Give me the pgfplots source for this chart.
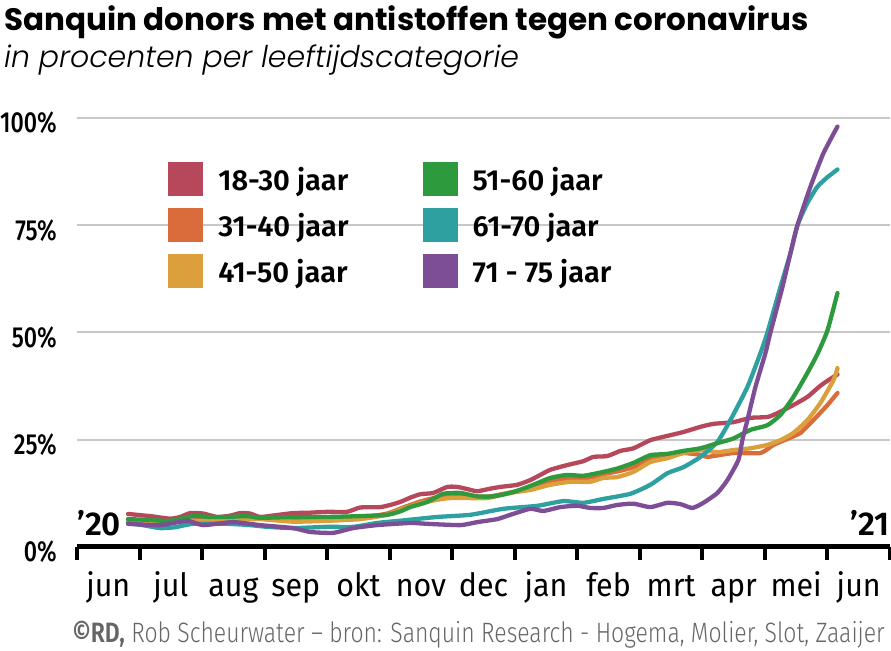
\documentclass[border=0pt]{standalone}
\usepackage{fontspec}
\usepackage{pgfplots}
\pgfplotsset{compat=1.18}
\setmainfont{Fira Sans}
\newfontfamily\titlefont{Poppins Bold}
\newfontfamily\subfont{Poppins Light Italic}
\newfontfamily\cond{Fira Sans Medium}[FakeStretch=0.8]
\newfontfamily\monthfont{Fira Sans}[FakeStretch=0.95]
\newfontfamily\legfont{Fira Sans SemiBold}
\newfontfamily\footfont{Fira Sans Light}[FakeStretch=0.82]
\newfontfamily\footb{Fira Sans SemiBold}[FakeStretch=0.82]
\definecolor{cR}{HTML}{B7485B}
\definecolor{cO}{HTML}{D96C3A}
\definecolor{cY}{HTML}{DBA03C}
\definecolor{cG}{HTML}{2E9A3E}
\definecolor{cT}{HTML}{2EA0A0}
\definecolor{cP}{HTML}{7D4E96}
\definecolor{gridc}{HTML}{C8C8C8}
\definecolor{footc}{HTML}{666666}
\begin{document}
\begin{tikzpicture}[x=1bp,y=1bp]
\useasboundingbox (0,0) rectangle (891,651);
\node[anchor=base west, inner sep=0pt, font=\titlefont\fontsize{31bp}{34bp}\selectfont] at (4,620) {Sanquin donors met antistoffen tegen coronavirus};
\node[anchor=base west, inner sep=0pt, font=\subfont\fontsize{30bp}{33bp}\selectfont] at (4,583) {in procenten per leeftijdscategorie};
\node[anchor=base east, inner sep=0pt, text=footc, font=\footfont\fontsize{28bp}{30bp}\selectfont] at (885,8) {{\footb ©RD,} Rob Scheurwater – bron: Sanquin Research - Hogema, Molier, Slot, Zaaijer};
\begin{axis}[
  at={(77bp,104bp)}, anchor=south west,
  scale only axis, width=813bp, height=429bp,
  xmin=0, xmax=13, ymin=0, ymax=100,
  clip=false,
  axis x line*=bottom, axis y line*=left,
  x axis line style={line width=5bp, black},
  y axis line style={draw=none},
  xtick={0.5,1.5,...,12.5},
  xticklabels={jun,jul,aug,sep,okt,nov,dec,jan,feb,mrt,apr,mei,jun},
  minor xtick={0,1,...,13},
  major tick length=0pt,
  minor tick length=13bp,
  tick align=outside,
  minor tick style={line width=4bp, black},
  xticklabel style={anchor=base, yshift=-50bp, inner sep=0pt, font=\monthfont\fontsize{32bp}{34bp}\selectfont},
  ytick={0,25,50,75,100},
  yticklabels={0\%,25\%,50\%,75\%,100\%},
  yticklabel style={anchor=east, inner sep=0pt, xshift=-20bp, yshift=-5bp, font=\cond\fontsize{29bp}{31bp}\selectfont},
  ytick style={draw=none},
  ymajorgrids, major grid style={gridc, line width=2bp},
  /pgf/number format/assume math mode=true,
  legend columns=3, transpose legend,
  legend style={at={(rel axis cs:0.1119,0.8974)}, anchor=north west, draw=none, fill=none, inner sep=0pt,
    nodes={inner sep=0pt},
    font=\legfont\fontsize{29bp}{31bp}\selectfont, row sep=12bp,
    /tikz/every even column/.append style={column sep=74bp}},
  legend cell align=left,
  legend image code/.code={\fill[draw=none, sharp corners] (0bp,-17bp) rectangle (35bp,17bp); \path (48bp,0bp);},
  every axis plot/.append style={line width=4.3bp, line join=round, line cap=round, smooth, tension=0.35},
]
\addplot[cR] coordinates {
(0.816,7.7)(1.168,7.2)(1.488,6.6)(1.648,7.0)(1.808,7.9)(2.016,7.8)(2.24,7.0)(2.448,7.3)(2.608,7.9)(2.768,7.8)(2.928,7.0)(3.168,7.4)(3.456,7.9)(3.728,8.0)(4.0,8.2)(4.32,8.2)(4.528,9.2)(4.848,9.3)(5.008,9.8)(5.168,10.5)(5.328,11.5)(5.488,12.3)(5.696,12.6)(5.92,14.0)(6.08,14.0)(6.24,13.5)(6.4,13.0)(6.608,13.6)(6.768,14.0)(7.04,14.5)(7.248,15.6)(7.408,16.8)(7.568,18.0)(7.84,19.1)(8.096,20.0)(8.256,21.0)(8.48,21.2)(8.688,22.4)(8.896,23.0)(9.168,24.9)(9.44,25.9)(9.696,26.8)(9.968,28.0)(10.176,28.7)(10.496,29.1)(10.768,30.1)(11.04,30.3)(11.2,31.2)(11.456,33.1)(11.68,35.0)(11.888,37.6)(12.048,39.2)(12.16,40.2)
};
\addlegendentry{18-30 jaar}
\addplot[cO] coordinates {
(0.816,6.3)(1.488,6.0)(2.016,6.3)(2.608,6.6)(2.928,6.6)(3.456,6.2)(4.0,6.3)(4.528,6.8)(4.96,7.8)(5.216,9.2)(5.488,10.6)(5.76,11.6)(5.968,12.0)(6.288,11.8)(6.56,11.7)(6.928,12.7)(7.248,13.8)(7.568,15.2)(7.888,16.0)(8.208,16.2)(8.416,17.0)(8.64,17.6)(8.896,18.6)(9.168,20.7)(9.44,21.4)(9.696,21.9)(9.968,21.5)(10.08,21.0)(10.496,21.9)(10.928,21.9)(11.136,23.8)(11.36,25.2)(11.568,26.6)(11.776,29.6)(12.0,33.1)(12.16,35.9)
};
\addlegendentry{31-40 jaar}
\addplot[cY] coordinates {
(0.816,6.0)(1.488,5.8)(2.016,6.1)(2.608,6.4)(2.928,6.5)(3.456,5.9)(4.0,6.1)(4.528,6.5)(4.96,7.5)(5.216,8.9)(5.488,10.2)(5.76,11.0)(5.968,11.4)(6.288,11.4)(6.56,11.4)(6.928,12.6)(7.248,13.3)(7.568,14.5)(7.888,15.2)(8.208,15.2)(8.416,16.1)(8.64,16.3)(8.896,17.5)(9.168,19.8)(9.44,20.7)(9.696,21.9)(9.968,22.6)(10.24,22.1)(10.496,22.6)(10.768,23.0)(11.04,23.8)(11.248,24.9)(11.456,26.6)(11.68,29.6)(11.888,33.6)(12.096,38.9)(12.16,41.7)
};
\addlegendentry{41-50 jaar}
\addplot[cT, forget plot] coordinates {
(0.816,5.6)(1.088,5.0)(1.328,4.4)(1.568,4.6)(1.856,5.4)(2.4,5.4)(2.768,5.1)(3.04,4.7)(3.456,4.4)(4.0,4.7)(4.416,4.7)(4.8,5.6)(5.216,6.2)(5.76,7.0)(6.288,7.5)(6.816,8.9)(7.36,9.6)(7.776,10.7)(8.096,10.3)(8.416,11.2)(8.848,12.4)(9.168,14.5)(9.44,17.2)(9.696,18.6)(9.968,21.0)(10.24,24.5)(10.448,29.6)(10.72,37.3)(10.928,45.2)(11.04,50.0)(11.248,60.6)(11.408,68.5)(11.52,75.0)(11.68,80.2)(11.84,84.0)(12.0,86.2)(12.16,88.0)
};
\addplot[cG, forget plot] coordinates {
(0.816,6.5)(1.168,6.3)(1.488,6.1)(1.856,7.2)(2.128,7.0)(2.4,7.0)(2.72,7.2)(2.928,6.8)(3.456,7.0)(4.0,7.0)(4.528,7.2)(4.96,7.5)(5.168,8.3)(5.328,9.3)(5.6,10.5)(5.856,12.4)(6.128,12.6)(6.4,11.8)(6.656,11.8)(6.976,12.8)(7.296,14.5)(7.568,16.1)(7.84,16.8)(8.096,16.6)(8.416,17.5)(8.64,18.3)(8.896,19.6)(9.168,21.4)(9.44,21.7)(9.696,22.4)(9.968,23.0)(10.24,24.2)(10.496,25.3)(10.768,27.3)(11.04,28.4)(11.248,30.8)(11.456,35.0)(11.68,40.6)(11.84,45.0)(12.0,50.5)(12.16,59.2)
};
\addplot[cP, forget plot] coordinates {
(0.816,5.4)(1.328,5.1)(1.76,6.1)(2.016,5.1)(2.496,5.8)(2.928,5.1)(3.456,4.4)(3.728,3.5)(4.096,3.3)(4.416,4.4)(4.8,5.1)(5.328,5.6)(5.6,5.4)(6.128,5.1)(6.4,5.8)(6.72,6.5)(6.928,7.5)(7.248,8.9)(7.456,8.4)(7.728,9.3)(8.0,9.6)(8.208,9.1)(8.416,9.1)(8.64,9.8)(8.896,10.1)(9.168,9.3)(9.44,10.3)(9.648,10.0)(9.84,9.1)(10.016,10.3)(10.24,12.6)(10.4,15.6)(10.576,20.3)(10.64,25.0)(10.72,29.6)(10.848,37.3)(11.008,45.2)(11.088,50.0)(11.28,60.6)(11.408,68.5)(11.52,75.0)(11.728,84.0)(11.936,91.8)(12.16,98.0)
};
\addlegendimage{cG}\addlegendentry{51-60 jaar}
\addlegendimage{cT}\addlegendentry{61-70 jaar}
\addlegendimage{cP}\addlegendentry{71 - 75 jaar}
\node[anchor=base west, inner sep=0pt, font=\legfont\fontsize{33bp}{35bp}\selectfont] at (axis cs:0,2.6) {’20};
\node[anchor=base east, inner sep=0pt, font=\legfont\fontsize{33bp}{35bp}\selectfont] at (axis cs:13,2.6) {’21};
\end{axis}
\end{tikzpicture}
\end{document}
